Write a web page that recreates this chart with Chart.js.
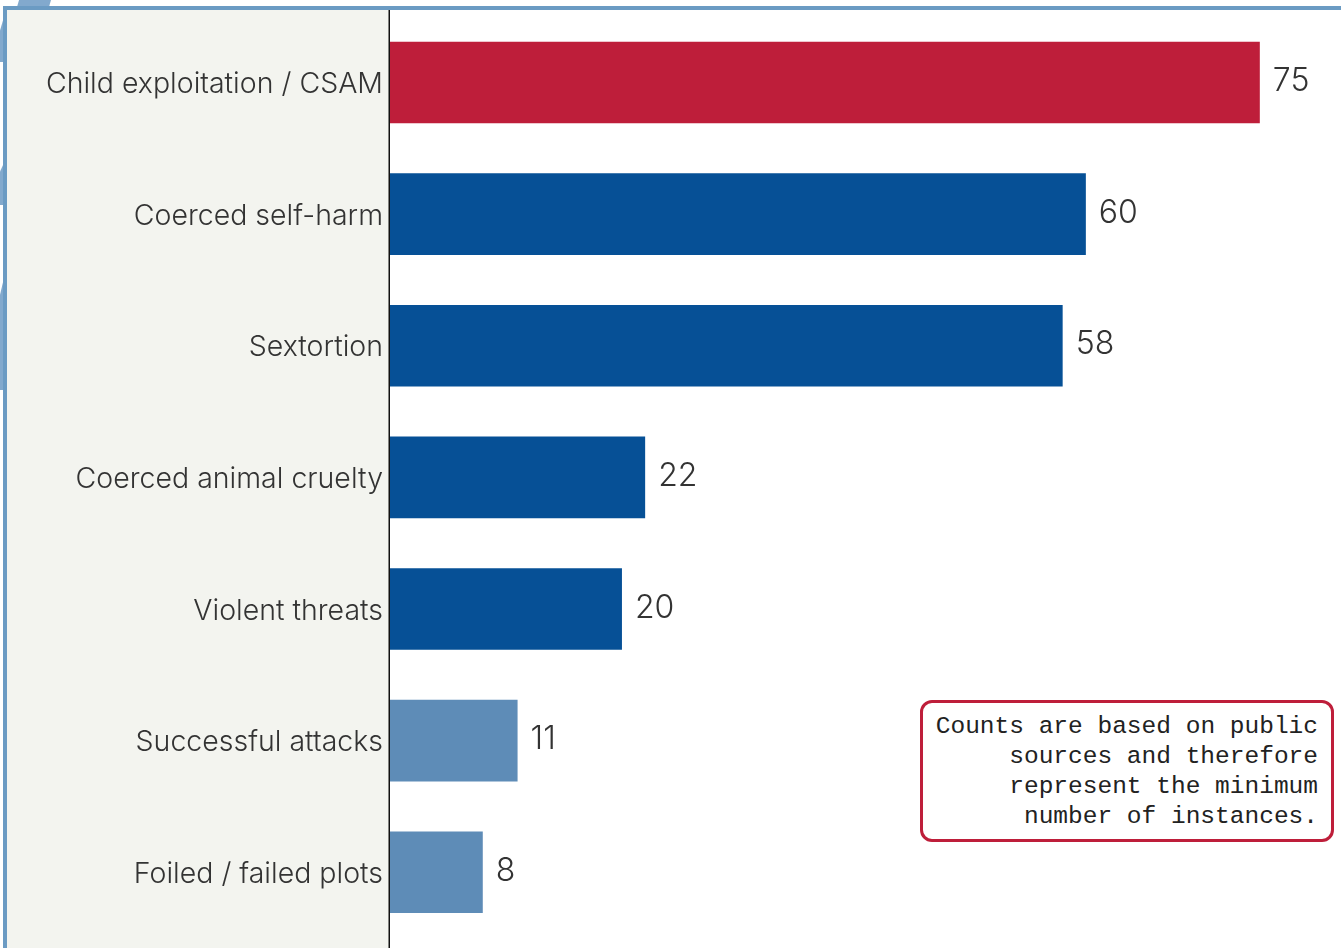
<!DOCTYPE html>
<html>
<head>
<meta charset="utf-8">
<script src="https://cdn.jsdelivr.net/npm/chart.js@4.4.1/dist/chart.umd.min.js"></script>
<style>
  html, body { margin: 0; padding: 0; background: #fff; }
  body { width: 1341px; height: 948px; position: relative; overflow: hidden; }
  .deco { position: absolute; background: #82a9cd; }
  #frame {
    position: absolute; left: 3px; top: 6px; width: 1400px; height: 1000px;
    border-top: 4px solid #6b9bc3; border-left: 4px solid #6b9bc3;
  }
  #wrap { position: absolute; left: 7px; top: 10px; width: 1334px; height: 938px; }
  #note {
    position: absolute; left: 920px; top: 700px;
    border: 3px solid #be1e3a; border-radius: 12px; background: #fff;
    box-sizing: content-box; text-align: right;
    font-family: "Liberation Mono", "DejaVu Sans Mono", monospace;
    font-size: 24.5px; line-height: 30px; color: #222;
    padding: 9px 0 0 0; height: 127px; width: 408px;
  }
  #note div { padding-right: 13px; }
</style>
</head>
<body>
<div class="deco" style="left:17px; top:0; width:34px; height:7px; clip-path: polygon(6% 0, 100% 0, 94% 100%, 0 100%);"></div>
<div class="deco" style="left:0; top:17px; width:4px; height:45px; clip-path: polygon(100% 0, 100% 100%, 0 100%, 0 30%);"></div>
<div class="deco" style="left:0; top:163px; width:4px; height:42px; clip-path: polygon(100% 0, 100% 100%, 0 100%, 0 20%);"></div>
<div class="deco" style="left:0; top:278px; width:4px; height:112px; clip-path: polygon(100% 0, 100% 100%, 0 100%, 0 15%);"></div>
<div id="frame"></div>
<div id="wrap"><canvas id="chart" width="1334" height="938"></canvas></div>
<div id="note">
  <div>Counts are based on public</div>
  <div>sources and therefore</div>
  <div>represent the minimum</div>
  <div>number of instances.</div>
</div>
<script>
const categories = [
  "Child exploitation / CSAM",
  "Coerced self-harm",
  "Sextortion",
  "Coerced animal cruelty",
  "Violent threats",
  "Successful attacks",
  "Foiled / failed plots"
];
const counts = [75, 60, 58, 22, 20, 11, 8];
const barColors = ["#be1e3a", "#065096", "#065096", "#065096", "#065096", "#5e8cb7", "#5e8cb7"];

const LABEL_FONT = "Inter, 'Open Sans', sans-serif";

// beige panel behind the category labels plus the black axis line
const panelPlugin = {
  id: "panel",
  beforeDraw(chart) {
    const { ctx, chartArea } = chart;
    ctx.save();
    ctx.fillStyle = "#f3f4ef";
    ctx.fillRect(0, 0, chartArea.left, chart.height);
    ctx.fillStyle = "#111";
    ctx.fillRect(chartArea.left - 1.5, 0, 1.5, chart.height);
    ctx.restore();
  }
};

// value labels at the end of each bar
const valuePlugin = {
  id: "values",
  afterDatasetsDraw(chart) {
    const { ctx } = chart;
    const meta = chart.getDatasetMeta(0);
    ctx.save();
    ctx.font = "300 32px " + LABEL_FONT;
    ctx.fillStyle = "#333";
    ctx.textAlign = "left";
    ctx.textBaseline = "middle";
    meta.data.forEach((bar, i) => {
      ctx.fillText(String(counts[i]), bar.x + 13, bar.y - 1);
    });
    ctx.restore();
  }
};

new Chart(document.getElementById("chart"), {
  type: "bar",
  data: {
    labels: categories,
    datasets: [{
      data: counts,
      backgroundColor: barColors,
      borderWidth: 0,
      barPercentage: 0.62,
      categoryPercentage: 1
    }]
  },
  options: {
    indexAxis: "y",
    responsive: false,
    animation: false,
    layout: { padding: { top: 6.7, bottom: 10, left: 0, right: 0 } },
    plugins: { legend: { display: false }, tooltip: { enabled: false } },
    scales: {
      x: { display: false, min: 0, max: 82 },
      y: {
        grid: { display: false, drawTicks: false },
        border: { display: false },
        ticks: {
          color: "#333",
          padding: 7,
          labelOffset: 2,
          font: { family: LABEL_FONT, size: 28.5, weight: 300 }
        },
        afterFit(scale) {
          scale.width = 383;
          scale.paddingTop = 0;
          scale.paddingBottom = 0;
        }
      }
    }
  },
  plugins: [panelPlugin, valuePlugin]
});
</script>
</body>
</html>
